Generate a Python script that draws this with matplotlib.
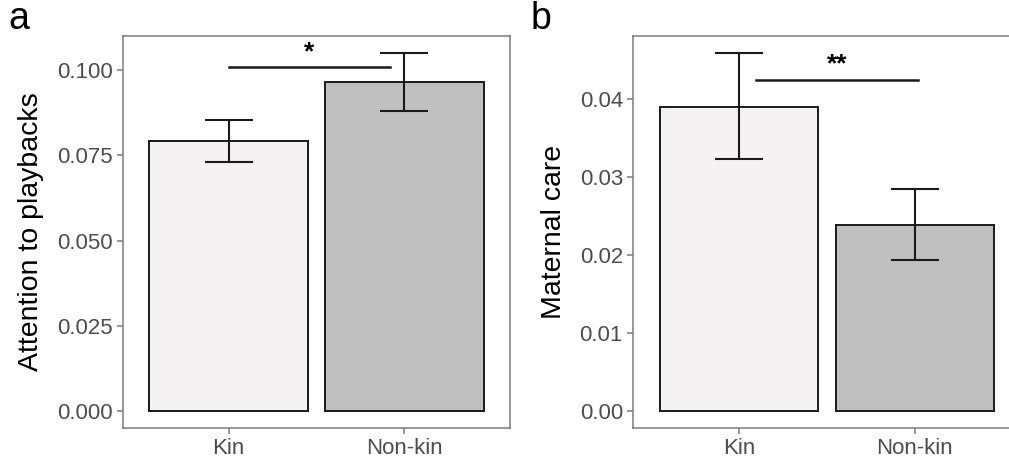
import numpy as np
import matplotlib
matplotlib.use('Agg')
import matplotlib.pyplot as plt

plt.rcParams['font.family'] = ['Liberation Sans', 'DejaVu Sans']

groups = ['Kin', 'Non-kin']
fills = ['#F4F2F3', '#C0C0C0']

# panel a
attention = [0.0792, 0.0966]
attention_lo = [0.0729, 0.0879]
attention_hi = [0.0855, 0.1049]
# panel b
care = [0.03905, 0.02387]
care_lo = [0.0323, 0.01934]
care_hi = [0.0459, 0.0285]

sig_a = (1.0, 1.92, 0.1008, '*')
sig_b = (1.1, 2.02, 0.04252, '**')

W, H = 1009, 458
fig = plt.figure(figsize=(W / 100, H / 100), dpi=100)

spine_col = '#7a7a7a'
tick_col = '#4d4d4d'


def panel(ax, vals, lo, hi, ylim, ticks, fmt, ylabel, sig, letter, letter_x):
    x = np.arange(1, len(groups) + 1)
    ax.bar(x, vals, width=0.9, color=fills, edgecolor='#1a1a1a', linewidth=1.4, zorder=2)
    vals = np.array(vals)
    yerr = np.vstack([vals - np.array(lo), np.array(hi) - vals])
    ax.errorbar(x, vals, yerr=yerr, fmt='none', ecolor='#1a1a1a', elinewidth=1.5,
                capsize=17, capthick=1.5, zorder=3)
    x0, x1, ys, star = sig
    ax.plot([x0, x1], [ys, ys], color='#1a1a1a', lw=1.8, zorder=3)
    ax.text((x0 + x1) / 2, ys + (ylim[1] - ylim[0]) * 0.008, star, ha='center', va='bottom',
            fontsize=19, fontweight='bold')
    ax.set_xlim(0.4, 2.6)
    ax.set_ylim(*ylim)
    ax.set_xticks(x)
    ax.set_xticklabels(groups)
    ax.set_yticks(ticks)
    ax.set_yticklabels([fmt.format(t) for t in ticks])
    ax.tick_params(colors=spine_col, labelcolor=tick_col, labelsize=16, length=4, width=1.1)
    for s in ax.spines.values():
        s.set_color(spine_col)
        s.set_linewidth(1.1)
    ax.set_ylabel(ylabel, fontsize=20.5, labelpad=9)
    fig.text(letter_x, 1 - 19 / H, letter, fontsize=27, ha='left', va='center')


ax1 = fig.add_axes([123 / W, 30 / H, 387 / W, 392 / H])
panel(ax1, attention, attention_lo, attention_hi, (-0.00499, 0.1100),
      [0.0, 0.025, 0.05, 0.075, 0.1], '{:.3f}', 'Attention to playbacks', sig_a, 'a', 8 / W)

ax2 = fig.add_axes([633.3 / W, 30 / H, 387 / W, 392 / H])
panel(ax2, care, care_lo, care_hi, (-0.00218, 0.0481),
      [0.0, 0.01, 0.02, 0.03, 0.04], '{:.2f}', 'Maternal care', sig_b, 'b', 531 / W)

fig.savefig('out.png', dpi=100)
